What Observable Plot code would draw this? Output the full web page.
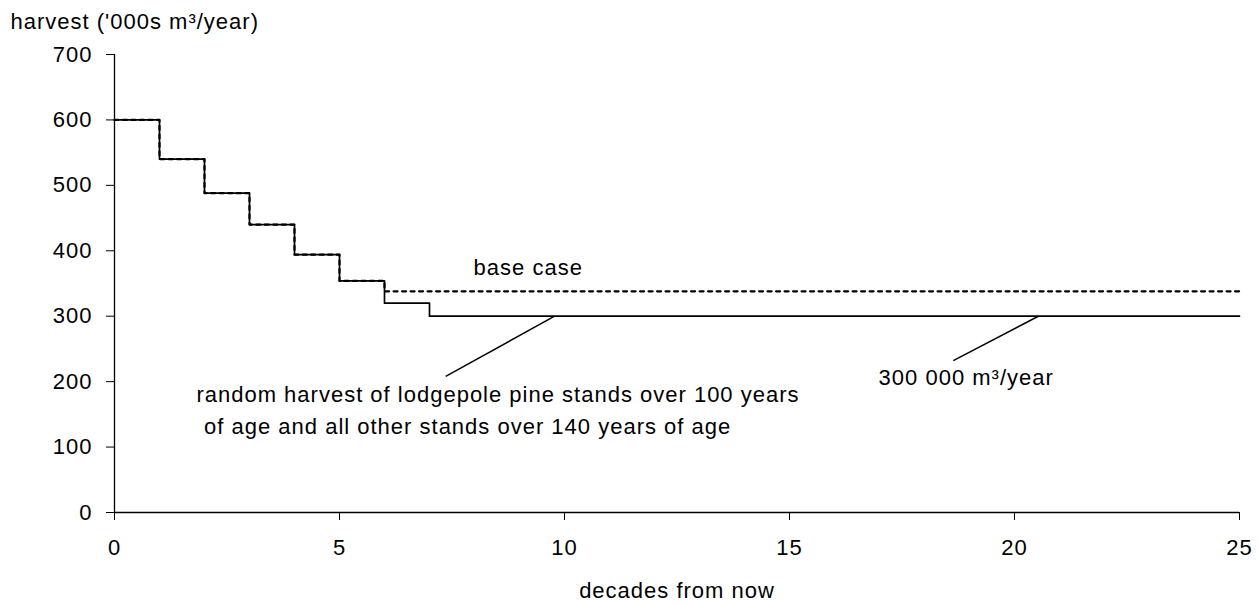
<!DOCTYPE html>
<html><head><meta charset="utf-8">
<script src="https://cdn.jsdelivr.net/npm/d3@7"></script>
<script src="https://cdn.jsdelivr.net/npm/@observablehq/plot@0.6"></script>
<style>body{margin:0;background:#fff;} svg{display:block} svg text{letter-spacing:1px}</style>
</head><body><div id="chart"></div>
<script>
const decades = [0,1,2,3,4,5,6,7,8,9,10,11,12,13,14,15,16,17,18,19,20,21,22,23,24,25];
const baseCase = [600,540,488,440,394,354,338,338,338,338,338,338,338,338,338,338,338,338,338,338,338,338,338,338,338,338];
const randomHarvest = [600,540,488,440,394,354,320,300,300,300,300,300,300,300,300,300,300,300,300,300,300,300,300,300,300,300];
const yTicks = [0,100,200,300,400,500,600,700];
const xTicks = [0,5,10,15,20,25];
const labelText = ["random harvest of lodgepole pine stands over 100 years", "of age and all other stands over 140 years of age", "base case", "300 000 m\u00b3/year"];
const labelX = [1.82, 1.99, 7.98, 16.98];
const labelY = [179, 130, 374, 205];
const calloutX1 = [7.36, 18.64];
const calloutY1 = [208, 232];
const calloutX2 = [9.78, 20.53];
const calloutY2 = [300, 300];
const yTitle = "harvest ('000s m\u00b3/year)";
const xTitle = "decades from now";

const baseData = decades.map((d, i) => ({x: d, y: baseCase[i]}));
const randData = decades.map((d, i) => ({x: d, y: randomHarvest[i]}));
const labels = labelText.map((t, i) => ({x: labelX[i], y: labelY[i], t}));
const callouts = calloutX1.map((x1, i) => ({x1, y1: calloutY1[i], x2: calloutX2[i], y2: calloutY2[i]}));

const font = "'Liberation Sans', Arial, sans-serif";
const fs = 22;

const chart = Plot.plot({
  width: 1259, height: 603,
  marginTop: 54, marginRight: 20, marginBottom: 91, marginLeft: 114,
  style: {fontFamily: font, fontSize: fs + "px", color: "#000", background: "#fff"},
  x: {domain: [0, 25]},
  y: {domain: [0, 700]},
  marks: [
    Plot.axisY({ticks: yTicks, tickSize: 8, tickPadding: 14, fontSize: fs, label: null, stroke: "#000"}),
    Plot.axisX({ticks: xTicks, tickSize: 8, tickPadding: 19, fontSize: fs, label: null, stroke: "#000"}),
    Plot.ruleX([0], {stroke: "#000", strokeWidth: 1.3}),
    Plot.ruleY([0], {stroke: "#000", strokeWidth: 1.3}),
    Plot.line(randData, {x: "x", y: "y", curve: "step-after", stroke: "#000", strokeWidth: 1.7}),
    Plot.line(baseData, {x: "x", y: "y", curve: "step-after", stroke: "#000", strokeWidth: 2.2, strokeDasharray: "4,4.5"}),
    Plot.link(callouts, {x1: "x1", y1: "y1", x2: "x2", y2: "y2", stroke: "#000", strokeWidth: 1.5}),
    Plot.text(labels, {x: "x", y: "y", text: "t", textAnchor: "start", fontSize: fs, fill: "#000"}),
    Plot.text([yTitle], {frameAnchor: "top-left", dx: -104, dy: -41, textAnchor: "start", fontSize: fs, fill: "#000"}),
    Plot.text([xTitle], {frameAnchor: "bottom", dy: 85, fontSize: fs, fill: "#000"})
  ]
});
document.getElementById("chart").appendChild(chart);
</script>
</body></html>
